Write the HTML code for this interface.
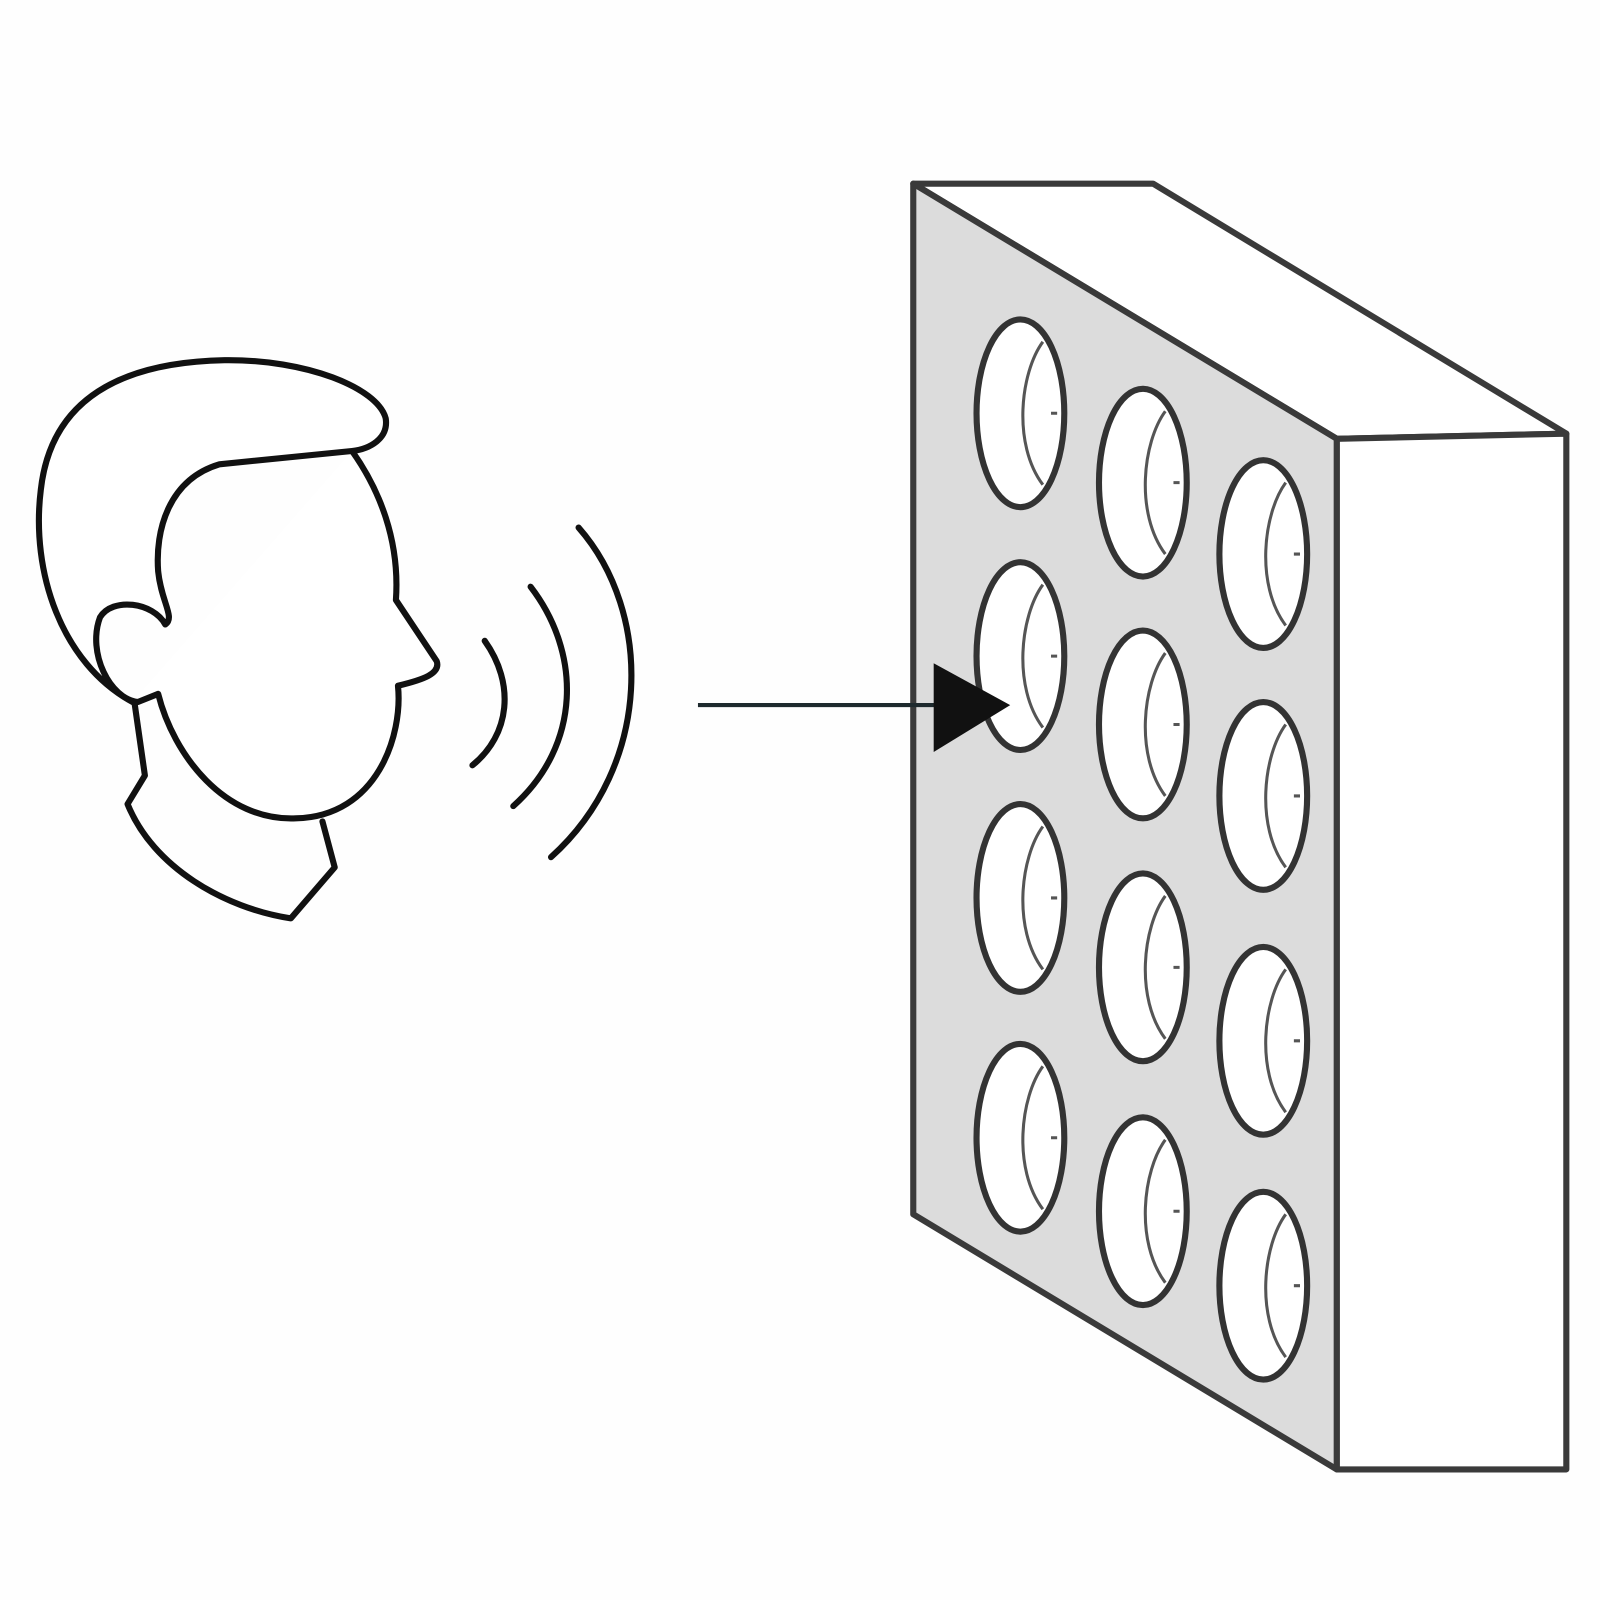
<!DOCTYPE html>
<html><head><style>html,body{margin:0;padding:0;background:#fff}svg{display:block}</style></head>
<body>
<svg width="1600" height="1600" viewBox="0 0 1568 1568" xmlns="http://www.w3.org/2000/svg">
<rect width="1568" height="1568" fill="#fefefe"/>
<g stroke="#111" stroke-width="6" fill="none" stroke-linejoin="round" stroke-linecap="round">
<path d="M130,688 C60,650 30,560 40,480 C50,390 120,355 220,353 C300,352 370,380 378,410 C381,430 362,440 345,442 L215,455 C165,470 152,520 155,560 C158,590 172,605 162,612 C150,590 110,585 98,605 C85,640 108,685 135,688 L155,680 C170,740 220,805 290,802 C370,800 395,720 390,672 C415,666 432,660 428,648 L388,588 C392,530 372,480 345,442" fill="#fff"/>
<path d="M132,690 L142,760 L125,788 C150,850 220,890 285,900 L328,850 L316,805"/>
<path d="M475,628 C505,670 500,720 463,750"/>
<path d="M520,575 C570,640 570,730 503,790"/>
<path d="M567,517 C640,600 640,750 540,840"/>
</g>
<g stroke="#3a3a3a" stroke-width="6" stroke-linejoin="round">
<polygon points="895,180 1130,180 1535,425 1310,430" fill="#fff"/>
<polygon points="1310,430 1535,425 1535,1440 1310,1440" fill="#fff"/>
<polygon points="895,180 1310,430 1310,1440 895,1190" fill="#dcdcdc"/>
</g>
<g fill="#fff" stroke="#333" stroke-width="6">
<ellipse cx="1000" cy="405" rx="43" ry="92"/><ellipse cx="1000" cy="643" rx="43" ry="92"/><ellipse cx="1000" cy="880" rx="43" ry="92"/><ellipse cx="1000" cy="1115" rx="43" ry="92"/>
<ellipse cx="1120" cy="473" rx="43" ry="92"/><ellipse cx="1120" cy="710" rx="43" ry="92"/><ellipse cx="1120" cy="948" rx="43" ry="92"/><ellipse cx="1120" cy="1187" rx="43" ry="92"/>
<ellipse cx="1238" cy="543" rx="43" ry="92"/><ellipse cx="1238" cy="780" rx="43" ry="92"/><ellipse cx="1238" cy="1020" rx="43" ry="92"/><ellipse cx="1238" cy="1260" rx="43" ry="92"/>
</g>
<defs><path id="arc" d="M22,-70 C0,-40 -8,30 22,70 M30,0 L36,0" fill="none" stroke="#555" stroke-width="3"/></defs>
<g>
<use href="#arc" x="1000" y="405"/><use href="#arc" x="1000" y="643"/><use href="#arc" x="1000" y="880"/><use href="#arc" x="1000" y="1115"/>
<use href="#arc" x="1120" y="473"/><use href="#arc" x="1120" y="710"/><use href="#arc" x="1120" y="948"/><use href="#arc" x="1120" y="1187"/>
<use href="#arc" x="1238" y="543"/><use href="#arc" x="1238" y="780"/><use href="#arc" x="1238" y="1020"/><use href="#arc" x="1238" y="1260"/>
</g>
<line x1="684" y1="691" x2="920" y2="691" stroke="#1e2a2e" stroke-width="4"/>
<polygon points="915,650 990,691 915,737" fill="#111"/>
</svg>
</body></html>
